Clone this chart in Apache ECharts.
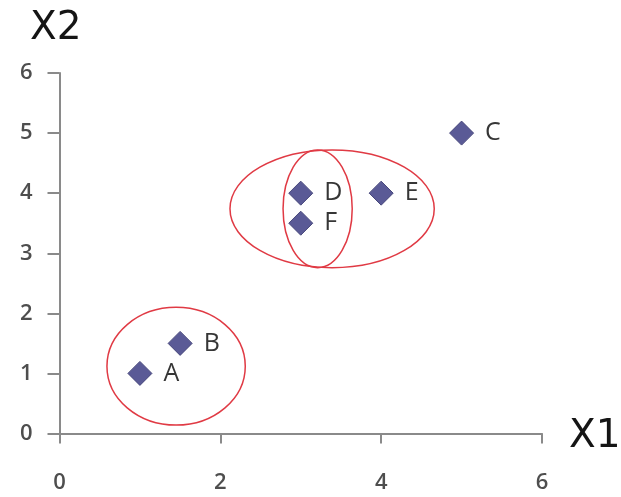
<!DOCTYPE html>
<html>
<head>
<meta charset="utf-8">
<script src="https://cdn.jsdelivr.net/npm/echarts@6/dist/echarts.min.js"></script>
<style>
  html, body { margin: 0; padding: 0; background: #ffffff; }
  #chart { width: 621px; height: 497px; }
</style>
</head>
<body>
<div id="chart"></div>
<script>
// Points
const pointNames = ['A', 'B', 'C', 'D', 'E', 'F'];
const pointX1 = [1, 1.5, 5, 3, 4, 3];
const pointX2 = [1, 1.5, 5, 4, 4, 3.5];

// Cluster outlines: centre and radii in data units
const ellipseCx = [1.45, 3.39, 3.21];
const ellipseCy = [1.12, 3.74, 3.74];
const ellipseRx = [0.86, 1.27, 0.43];
const ellipseRy = [0.98, 0.98, 0.98];

// Axis ticks
const xTicks = [0, 2, 4, 6];
const yTicks = [0, 1, 2, 3, 4, 5, 6];

const axisColor = '#8a8a8a';
const tickFont = 'Open Sans';

const chart = echarts.init(document.getElementById('chart'));

const pointData = pointNames.map((n, i) => ({ name: n, value: [pointX1[i], pointX2[i]] }));
const ellipseData = ellipseCx.map((cx, i) => [cx, ellipseCy[i], ellipseRx[i], ellipseRy[i]]);

chart.setOption({
  animation: false,
  backgroundColor: '#ffffff',
  grid: { left: 59.5, right: 79, top: 73, bottom: 63.5, containLabel: false },
  xAxis: {
    type: 'value',
    min: xTicks[0],
    max: xTicks[xTicks.length - 1],
    interval: xTicks[1] - xTicks[0],
    splitLine: { show: false },
    axisLine: { show: true, onZero: false, lineStyle: { color: axisColor, width: 2 } },
    axisTick: { show: true, length: 10, lineStyle: { color: axisColor, width: 2 } },
    axisLabel: { margin: 38, color: '#4e4e4e', fontFamily: tickFont, fontSize: 22, fontWeight: 600 }
  },
  yAxis: {
    type: 'value',
    min: yTicks[0],
    max: yTicks[yTicks.length - 1],
    interval: yTicks[1] - yTicks[0],
    splitLine: { show: false },
    axisLine: { show: true, onZero: false, lineStyle: { color: axisColor, width: 2 } },
    axisTick: { show: true, length: 12, lineStyle: { color: axisColor, width: 2 } },
    axisLabel: { margin: 27, color: '#4e4e4e', fontFamily: tickFont, fontSize: 22, fontWeight: 600 }
  },
  graphic: [
    { type: 'text', left: 30, top: 9,
      style: { text: 'X2', font: '39px "DejaVu Sans"', fill: '#151515' } },
    { type: 'text', left: 569, top: 417,
      style: { text: 'X1', font: '39px "DejaVu Sans"', fill: '#151515' } }
  ],
  series: [
    {
      type: 'custom',
      silent: true,
      z: 1,
      data: ellipseData,
      encode: { x: 0, y: 1 },
      renderItem: function (params, api) {
        const c = api.coord([api.value(0), api.value(1)]);
        const s = api.size([api.value(2), api.value(3)]);
        return {
          type: 'ellipse',
          shape: { cx: c[0], cy: c[1], rx: s[0], ry: s[1] },
          style: { fill: 'none', stroke: '#e03a44', lineWidth: 1.5 }
        };
      }
    },
    {
      type: 'scatter',
      z: 3,
      symbol: 'diamond',
      symbolSize: 24,
      data: pointData,
      itemStyle: { color: '#5a5a96', borderColor: '#48487c', borderWidth: 1, opacity: 1 },
      label: {
        show: true,
        position: 'right',
        distance: 11,
        formatter: '{b}',
        color: '#363636',
        fontFamily: tickFont,
        fontSize: 25
      }
    }
  ]
});
</script>
</body>
</html>
